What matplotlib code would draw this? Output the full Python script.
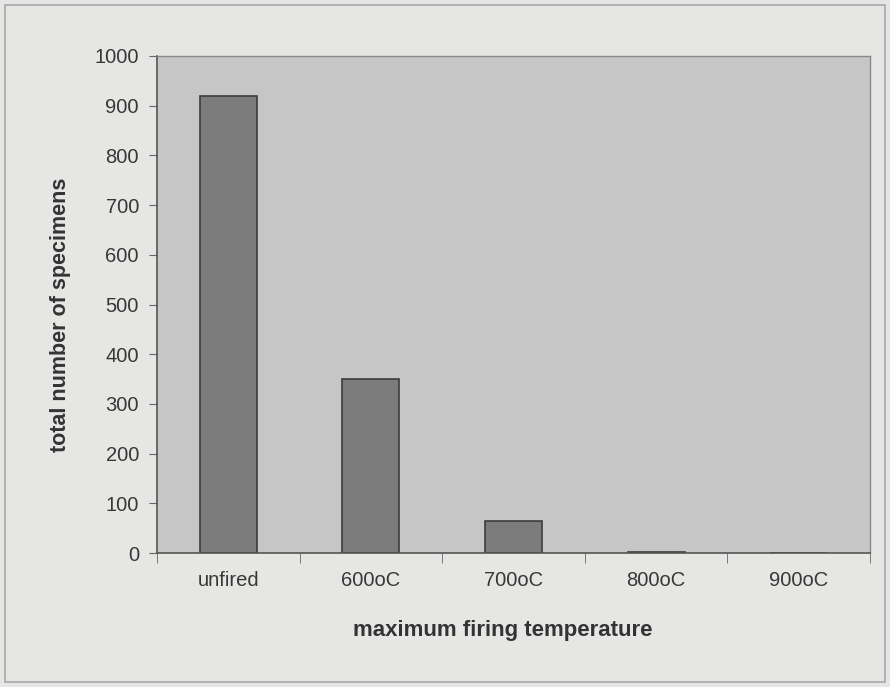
import matplotlib
matplotlib.use("Agg")
import matplotlib.pyplot as plt
from matplotlib.patches import Rectangle
import numpy as np

# data
categories = ["unfired", "600oC", "700oC", "800oC", "900oC"]
specimens = [920, 350, 65, 3, 0]
y_ticks = [0, 100, 200, 300, 400, 500, 600, 700, 800, 900, 1000]

plt.rcParams['font.family'] = ['Liberation Sans', 'DejaVu Sans']

fig = plt.figure(figsize=(8.9, 6.87), dpi=100)
fig.patch.set_facecolor('#e6e6e4')
ax = fig.add_axes([0.1764, 0.195, 0.801, 0.7235])
ax.set_facecolor('#c6c6c6')

# outer chart border
fig.patches.append(Rectangle((0.006, 0.008), 0.988, 0.984, transform=fig.transFigure,
                             fill=False, edgecolor='#a8a8a8', linewidth=1.2))

x = np.arange(len(categories))
ax.bar(x, specimens, width=0.4, color='#7c7c7c', edgecolor='#3c3c3c', linewidth=1.2)

ax.set_xlim(-0.5, len(categories) - 0.5)
ax.set_ylim(0, 1000)
ax.set_yticks(y_ticks)
ax.set_yticklabels([str(t) for t in y_ticks], fontsize=14.5, color='#383838')
ax.set_xticks(x)
ax.set_xticklabels(categories, fontsize=14.5, color='#383838')
ax.tick_params(axis='x', which='major', length=0, pad=13)
ax.set_xticks(np.arange(len(categories) + 1) - 0.5, minor=True)
ax.tick_params(axis='x', which='minor', length=7, color='#666666', direction='out')
ax.tick_params(axis='y', length=6, color='#666666', direction='out', pad=7)

for side in ['top', 'right']:
    ax.spines[side].set_color('#8a8a8a')
    ax.spines[side].set_linewidth(1.0)
for side in ['left', 'bottom']:
    ax.spines[side].set_color('#555555')
    ax.spines[side].set_linewidth(1.2)

ax.set_xlabel("maximum firing temperature", fontsize=16, fontweight='bold',
              color='#333333')
ax.xaxis.set_label_coords(0.485, -0.135)
ax.set_ylabel("total number of specimens", fontsize=15.5, fontweight='bold',
              color='#333333')
ax.yaxis.set_label_coords(-0.121, 0.479)

fig.savefig("out.png", dpi=100, facecolor=fig.get_facecolor())
